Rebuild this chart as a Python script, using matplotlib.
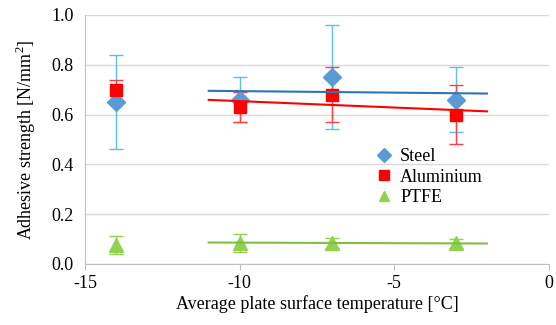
import numpy as np
import matplotlib
matplotlib.use("Agg")
import matplotlib.pyplot as plt
from matplotlib.lines import Line2D

plt.rcParams["font.family"] = ["Liberation Serif", "DejaVu Serif"]
plt.rcParams["axes.unicode_minus"] = False
plt.rcParams["mathtext.fontset"] = "custom"
plt.rcParams["mathtext.rm"] = "Liberation Serif"

temps = [-14, -10, -7, -3]
steel = [0.65, 0.66, 0.75, 0.66]
steel_err = [0.19, 0.09, 0.21, 0.13]
alu = [0.70, 0.63, 0.68, 0.60]
alu_err = [0.04, 0.06, 0.11, 0.12]
ptfe = [0.077, 0.085, 0.085, 0.082]
ptfe_err = [0.037, 0.037, 0.02, 0.02]

# linear trends fitted to the last three temperatures, drawn -11..-2
fit_idx = slice(1, None)
trend_x = [-11, -2]

series = [
    ("Steel", steel, steel_err, "D", 9, "#5B9BD5", "#5BC0EB", "#2E75B6"),
    ("Aluminium", alu, alu_err, "s", 9, "#FF0000", "#FF4040", "#FF0000"),
    ("PTFE", ptfe, ptfe_err, "^", 10, "#92D050", "#92D050", "#7CC040"),
]

fig = plt.figure(figsize=(5.56, 3.25), dpi=100)
ax = fig.add_axes([0.153, 0.188, 0.834, 0.766])

handles = []
for name, y, err, mk, ms, col, ecol, tcol in series:
    ax.errorbar(temps, y, yerr=err, fmt=mk, ms=ms, color=col, ecolor=ecol,
                elinewidth=1, capsize=5, capthick=1, mec=col, zorder=3)
    handles.append(Line2D([], [], ls="none", marker=mk, ms=ms * 0.75, color=col, label=name))

for name, y, err, mk, ms, col, ecol, tcol in series:
    k, b = np.polyfit(temps[fit_idx], y[fit_idx], 1)
    tx = np.array(trend_x)
    ax.plot(tx, k * tx + b, color=tcol, lw=1.5, zorder=4)

ax.set_xlim(-15, 0)
ax.set_ylim(0, 1.0)
ax.set_xticks([-15, -10, -5, 0])
ax.set_yticks(np.arange(0, 1.01, 0.2))
ax.set_yticklabels([f"{v:.1f}" for v in np.arange(0, 1.01, 0.2)])
ax.yaxis.grid(True, color="#D9D9D9", lw=1)
ax.set_axisbelow(True)
for s in ["top", "right"]:
    ax.spines[s].set_visible(False)
for s in ["left", "bottom"]:
    ax.spines[s].set_color("#BFBFBF")
ax.tick_params(axis="y", length=0, labelsize=13, pad=8)
ax.tick_params(axis="x", direction="out", length=4, color="#BFBFBF", labelsize=13, pad=4)

ax.set_xlabel("Average plate surface temperature [°C]", fontsize=13, labelpad=2)
ax.set_ylabel("Adhesive strength [N/mm$^2$]", fontsize=13, labelpad=10)

ax.legend(handles=handles, loc="upper left", bbox_to_anchor=(0.59, 0.53), frameon=False,
          fontsize=13, handletextpad=0.4, labelspacing=0.2, handlelength=1.0)

fig.savefig("out.png", dpi=100)
